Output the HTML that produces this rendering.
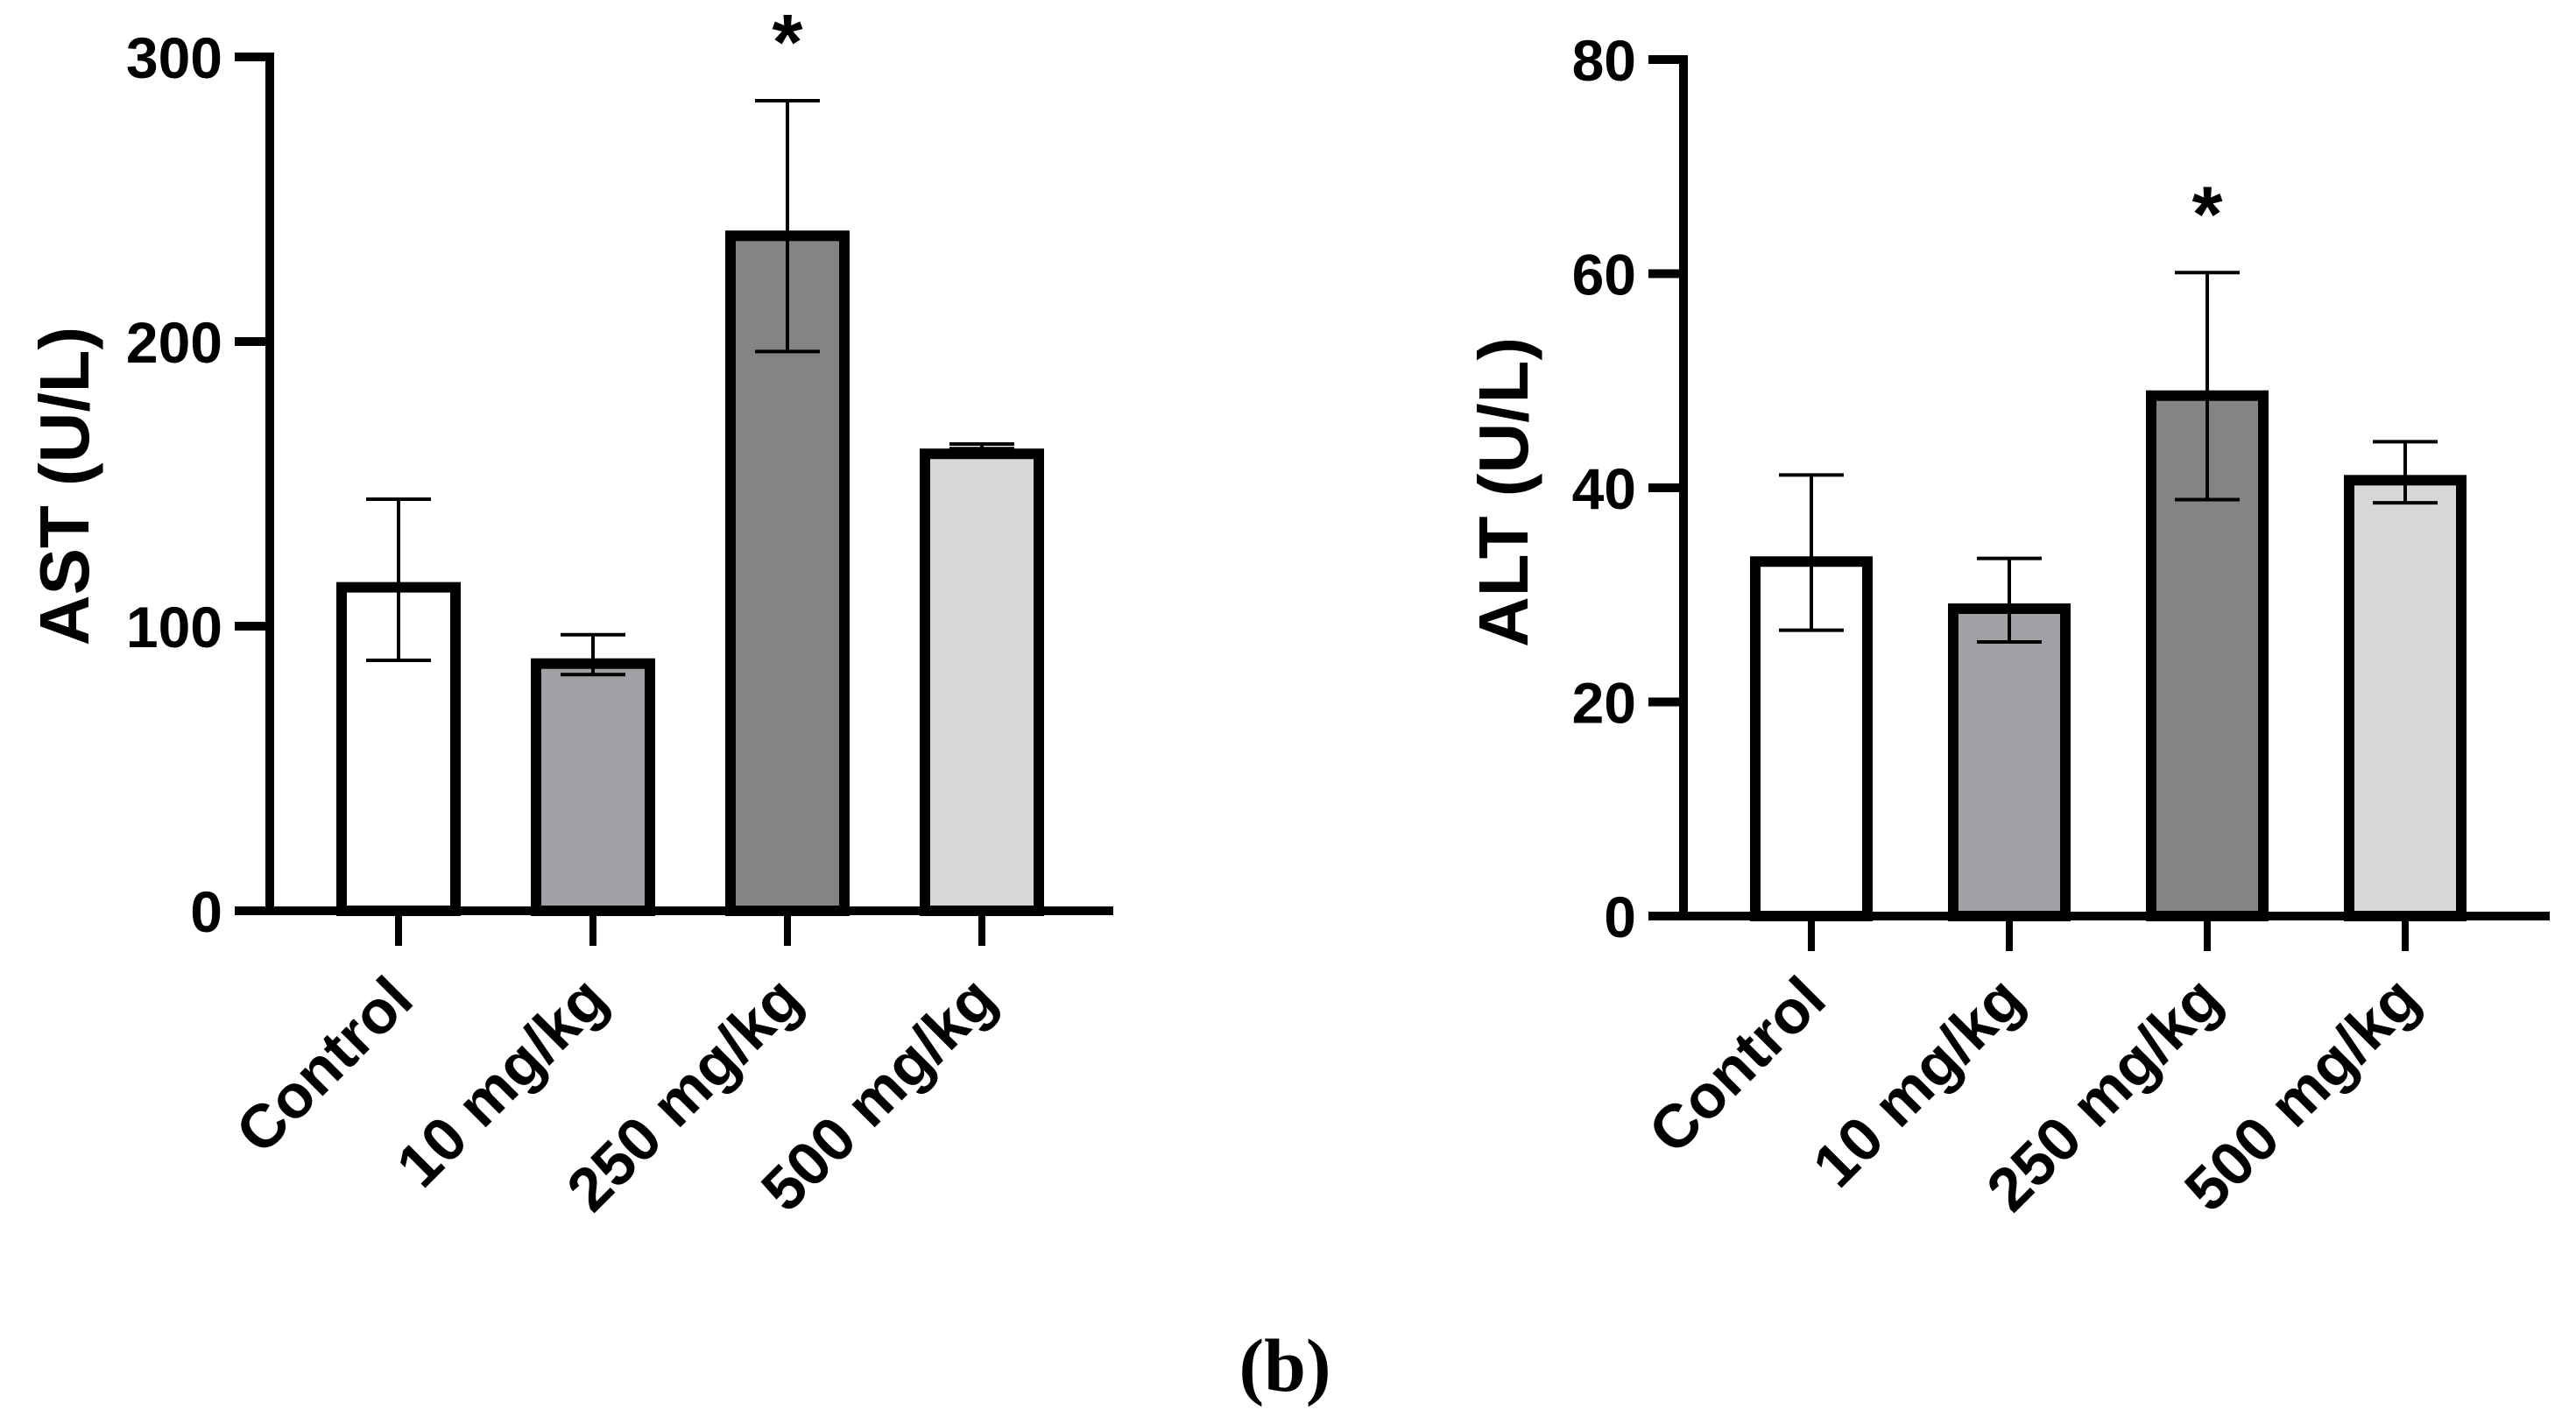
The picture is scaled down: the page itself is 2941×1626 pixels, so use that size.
<!DOCTYPE html>
<html><head><meta charset="utf-8"><style>
html,body{margin:0;padding:0;background:#fff;}
svg{display:block;font-family:"Liberation Sans",Arial,sans-serif;}
</style></head><body>
<svg id="fig" width="2941" height="1626" viewBox="0 0 2941 1626" xmlns="http://www.w3.org/2000/svg">
<text x="1467" y="1588" text-anchor="middle" font-family="Liberation Serif, serif" font-weight="bold" font-size="86">(b)</text>
</svg>
<script>
const categories = ["Control", "10 mg/kg", "250 mg/kg", "500 mg/kg"];
const fills = ["#ffffff", "#a1a1a5", "#848484", "#d6d7d6"];
const astMeans = [115.5, 88.7, 239, 162.4];
const astErrHi = [144.6, 97, 284.6, 164];
const astErrLo = [88, 83, 196.5, 162.4];
const astTicks = [0, 100, 200, 300];
const astSig = [false, false, true, false];
const altMeans = [33.6, 29.2, 49.1, 41.2];
const altErrHi = [41.2, 33.4, 60.1, 44.3];
const altErrLo = [26.7, 25.6, 38.9, 38.6];
const altTicks = [0, 20, 40, 60, 80];
const altSig = [false, false, true, false];

const NS = "http://www.w3.org/2000/svg";
const svg = document.getElementById("fig");
function mk(tag, attrs, parent) {
  const e = document.createElementNS(NS, tag);
  for (const k in attrs) e.setAttribute(k, attrs[k]);
  (parent || svg).appendChild(e);
  return e;
}

function panel(cfg) {
  const g = mk("g", {});
  
  
  const yMax = cfg.ticks[cfg.ticks.length - 1];
  const y = v => cfg.y0 - (v / yMax) * (cfg.y0 - cfg.yTop);
  const x = i => cfg.c0 + cfg.band * i;
  categories.forEach((c, i) => {
    const sw = 12;
    const top = y(cfg.means[i]);
    const r = mk("rect", {x: x(i) - cfg.bw / 2 + sw / 2, y: top + sw / 2, width: cfg.bw - sw, height: cfg.y0 - top - sw / 2, fill: fills[i], stroke: "#000", "stroke-width": sw}, g);
    
    
    const eg = mk("g", {stroke: "#000", "stroke-width": 4}, g);
    
    
    const hi = y(cfg.hi[i]), lo = y(cfg.lo[i]);
    mk("line", {x1: x(i), x2: x(i), y1: hi, y2: lo}, eg);
    mk("line", {x1: x(i) - 37, x2: x(i) + 37, y1: hi, y2: hi}, eg);
    mk("line", {x1: x(i) - 37, x2: x(i) + 37, y1: lo, y2: lo}, eg);
    if (cfg.sig[i]) {
      const s = mk("text", {x: x(i), y: hi - 36, "text-anchor": "middle", "font-size": 90, "font-weight": "bold"}, g);
      s.textContent = "*";
      
      
    }
    mk("line", {x1: x(i), x2: x(i), y1: cfg.y0, y2: cfg.y0 + 40, stroke: "#000", "stroke-width": 8}, g);
    const lx = x(i) + 20, ly = 1145;
    const t = mk("text", {x: lx, y: ly, "text-anchor": "end", "font-size": 70, "font-weight": "bold", transform: `rotate(-45 ${lx} ${ly})`}, g);
    t.textContent = c;
    
    
  });
  const ax = mk("g", {stroke: "#000", "stroke-width": 10}, g);
  
  
  mk("line", {x1: cfg.x0, x2: cfg.x0, y1: cfg.yTop - 5, y2: cfg.y0 + 5}, ax);
  mk("line", {x1: cfg.x0 - 40, x2: cfg.xEnd, y1: cfg.y0, y2: cfg.y0}, ax);
  cfg.ticks.forEach(v => {
    mk("line", {x1: cfg.x0 - 40, x2: cfg.x0, y1: y(v), y2: y(v)}, ax);
    const t = mk("text", {x: cfg.x0 - 54, y: y(v) + 24, "text-anchor": "end", "font-size": 66, "font-weight": "bold"}, g);
    t.textContent = v;
    
    
  });
  const tt = mk("text", {x: cfg.titleX, y: cfg.titleY, "text-anchor": "middle", "font-size": 80, "font-weight": "bold", transform: `rotate(-90 ${cfg.titleX} ${cfg.titleY})`}, g);
  tt.textContent = cfg.title;
  
  
}

panel({name: "ast-chart", x0: 308, xEnd: 1271, c0: 455, band: 222, bw: 142, y0: 1040, yTop: 65,
  ticks: astTicks, means: astMeans, hi: astErrHi, lo: astErrLo, sig: astSig,
  title: "AST (U/L)", titleX: 101, titleY: 555});
panel({name: "alt-chart", x0: 1922, xEnd: 2911, c0: 2068, band: 226, bw: 140, y0: 1046, yTop: 68,
  ticks: altTicks, means: altMeans, hi: altErrHi, lo: altErrLo, sig: altSig,
  title: "ALT (U/L)", titleX: 1744, titleY: 562});
</script>
</body></html>
